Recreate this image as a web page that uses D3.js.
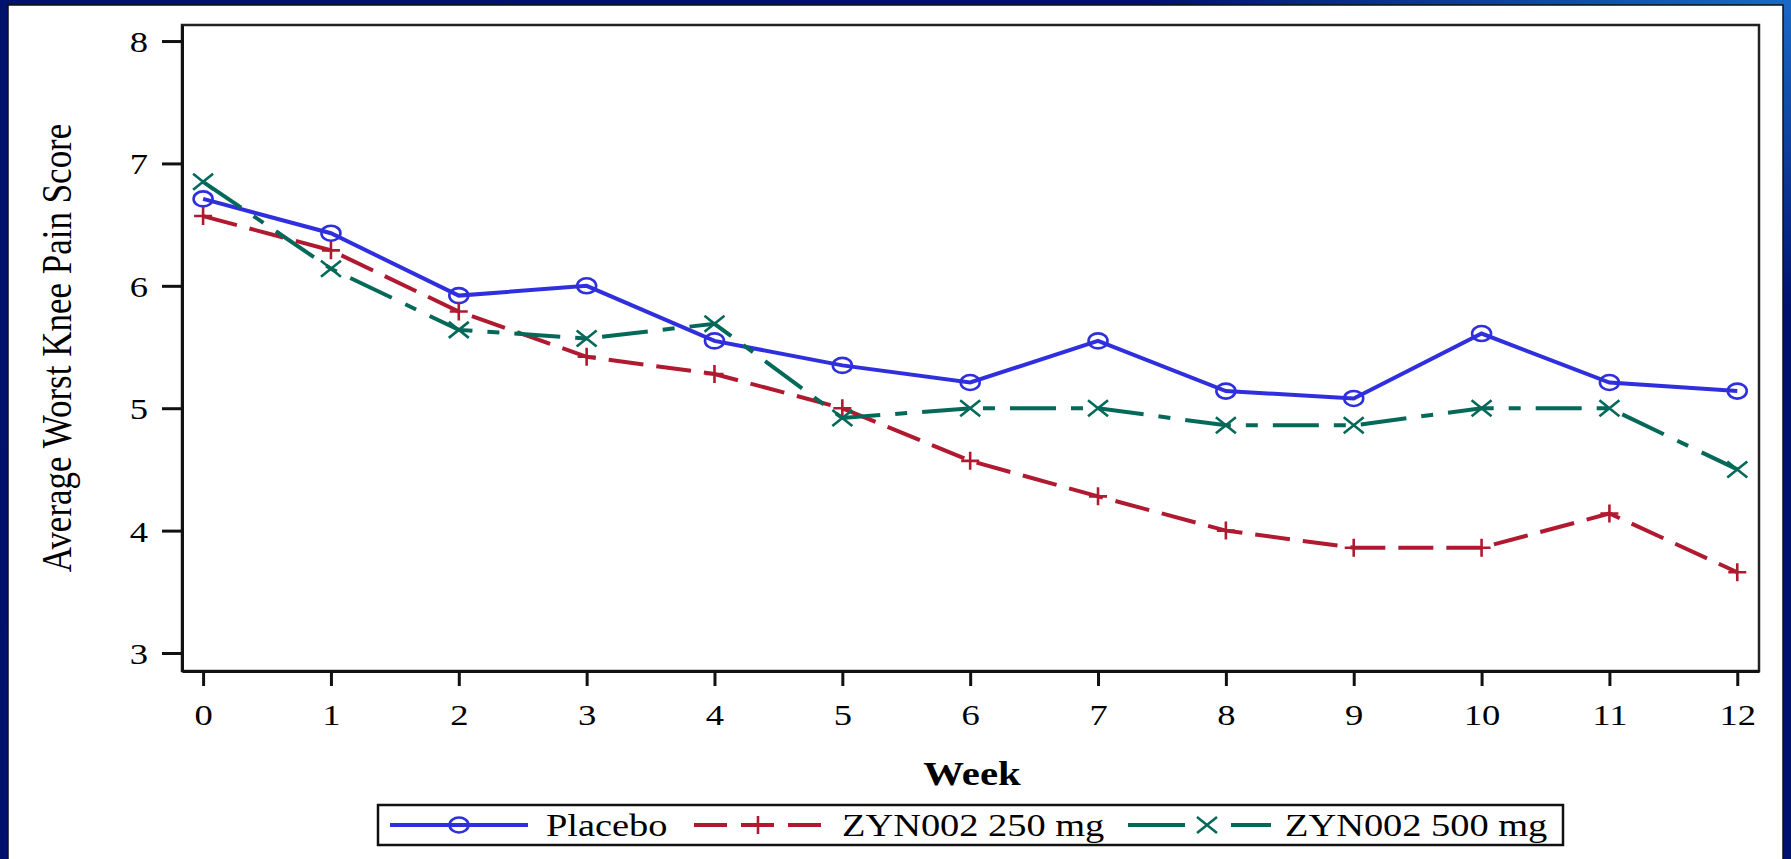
<!DOCTYPE html>
<html>
<head>
<meta charset="utf-8">
<script src="https://cdn.jsdelivr.net/npm/d3@7"></script>
<style>
  html, body { margin: 0; padding: 0; background: #001070; }
  svg { display: block; }
  text { font-family: "Liberation Serif", "Times New Roman", serif; fill: #000; }
</style>
</head>
<body>
<script>
// data
var weeks = [0, 1, 2, 3, 4, 5, 6, 7, 8, 9, 10, 11, 12];
var placebo = [6.71, 6.43, 5.92, 6.00, 5.55, 5.35, 5.21, 5.55, 5.14, 5.08, 5.61, 5.21, 5.14];
var zyn250  = [6.57, 6.29, 5.79, 5.42, 5.28, 5.00, 4.57, 4.28, 4.00, 3.86, 3.86, 4.14, 3.66];
var zyn500  = [6.85, 6.14, 5.64, 5.57, 5.69, 4.92, 5.00, 5.00, 4.86, 4.86, 5.00, 5.00, 4.50];
var yTicks = [3, 4, 5, 6, 7, 8];
var seriesNames = ["Placebo", "ZYN002 250 mg", "ZYN002 500 mg"];

var W = 1791, H = 859;
var plot = {left: 182, right: 1759, top: 25, bottom: 671};
var stretch = 1.22; // source picture is stretched sideways

var series = [
  {name: seriesNames[0], values: placebo, color: "#2f2fdd", dash: null, legendDash: null, marker: "circle"},
  {name: seriesNames[1], values: zyn250, color: "#b01a30", dash: "35,13", legendDash: "33,14", marker: "plus"},
  {name: seriesNames[2], values: zyn500, color: "#05695a", dash: "46,15,12,15", legendDash: "57,46,40", marker: "cross"}
];

var svg = d3.select("body").append("svg")
    .attr("width", W)
    .attr("height", H);

// navy frame with lighter corner
var grad = svg.append("defs").append("linearGradient")
    .attr("id", "frame")
    .attr("x1", 0).attr("y1", 1).attr("x2", 1).attr("y2", 0);
grad.append("stop").attr("offset", "0").attr("stop-color", "#001070");
grad.append("stop").attr("offset", "0.82").attr("stop-color", "#00126e");
grad.append("stop").attr("offset", "1").attr("stop-color", "#1a6ac8");
svg.append("rect").attr("width", W).attr("height", H).attr("fill", "url(#frame)");

// white panel
svg.append("rect")
    .attr("x", 8).attr("y", 5)
    .attr("width", 1775).attr("height", H)
    .attr("fill", "#fff")
    .attr("stroke", "#111")
    .attr("stroke-width", 1.5);

var x = d3.scaleLinear().domain([-0.165, 12.17]).range([plot.left, plot.right]);
var y = d3.scaleLinear().domain([2.853, 8.131]).range([plot.bottom, plot.top]);

// plot frame
svg.append("rect")
    .attr("x", plot.left).attr("y", plot.top)
    .attr("width", plot.right - plot.left)
    .attr("height", plot.bottom - plot.top)
    .attr("fill", "none")
    .attr("stroke", "#222")
    .attr("stroke-width", 2.5);

// y axis
var gy = svg.append("g")
    .attr("transform", "translate(" + plot.left + ",0)")
    .call(d3.axisLeft(y).tickValues(yTicks).tickSize(20).tickSizeOuter(0).tickFormat(d3.format("d")));
gy.select(".domain").attr("stroke", "#111").attr("stroke-width", 3);
gy.selectAll(".tick line").attr("stroke", "#111").attr("stroke-width", 3);
gy.selectAll(".tick text")
    .attr("x", 0).attr("dy", "0.35em")
    .attr("text-anchor", "end")
    .attr("transform", "translate(-34,0) scale(" + stretch + ",1)")
    .style("font-size", "30px")
    .style("font-family", "Liberation Serif");

// x axis
var gx = svg.append("g")
    .attr("transform", "translate(0," + plot.bottom + ")")
    .call(d3.axisBottom(x).tickValues(weeks).tickSize(15).tickSizeOuter(0).tickFormat(d3.format("d")));
gx.select(".domain").attr("stroke", "#111").attr("stroke-width", 3);
gx.selectAll(".tick line").attr("stroke", "#111").attr("stroke-width", 3);
gx.selectAll(".tick text")
    .attr("y", 0).attr("dy", 0)
    .attr("text-anchor", "middle")
    .attr("transform", "translate(0,54) scale(" + stretch + ",1)")
    .style("font-size", "30px")
    .style("font-family", "Liberation Serif");

// axis titles
svg.append("text")
    .attr("transform", "translate(972,785) scale(1.2,1)")
    .attr("text-anchor", "middle")
    .style("font-size", "34px")
    .style("font-weight", "bold")
    .text("Week");

svg.append("text")
    .attr("transform", "translate(71,348) scale(1.2,1) rotate(-90)")
    .attr("text-anchor", "middle")
    .style("font-size", "35px")
    .text("Average Worst Knee Pain Score");

// markers
function drawMarker(g, type, color) {
  if (type === "circle") {
    g.append("ellipse").attr("rx", 9.5).attr("ry", 7.5)
        .attr("fill", "none").attr("stroke", color).attr("stroke-width", 2.6);
  } else if (type === "plus") {
    g.append("path").attr("d", "M-9,0H9M0,-9V9")
        .attr("stroke", color).attr("stroke-width", 2.6);
  } else {
    g.append("path").attr("d", "M-10,-8L10,8M-10,8L10,-8")
        .attr("stroke", color).attr("stroke-width", 2.6);
  }
}

var line = d3.line()
    .x(function(d) { return x(d.week); })
    .y(function(d) { return y(d.value); });

series.forEach(function(s) {
  var pts = weeks.map(function(w, i) { return {week: w, value: s.values[i]}; });
  svg.append("path")
      .datum(pts)
      .attr("d", line)
      .attr("fill", "none")
      .attr("stroke", s.color)
      .attr("stroke-width", 4)
      .attr("stroke-dasharray", s.dash);
  svg.selectAll(null)
      .data(pts)
      .enter().append("g")
      .attr("transform", function(d) { return "translate(" + x(d.week) + "," + y(d.value) + ")"; })
      .each(function() { drawMarker(d3.select(this), s.marker, s.color); });
});

// legend
svg.append("rect")
    .attr("x", 378).attr("y", 805)
    .attr("width", 1563 - 378).attr("height", 40)
    .attr("fill", "#fff")
    .attr("stroke", "#111")
    .attr("stroke-width", 2.5);

var legendItems = [
  {x0: 390, x1: 528, mx: 459, tx: 546},
  {x0: 694, x1: 821, mx: 758, tx: 842},
  {x0: 1128, x1: 1271, mx: 1207, tx: 1285}
];
var ly = 825;
series.forEach(function(s, i) {
  var it = legendItems[i];
  svg.append("line")
      .attr("x1", it.x0).attr("x2", it.x1)
      .attr("y1", ly).attr("y2", ly)
      .attr("stroke", s.color)
      .attr("stroke-width", 4)
      .attr("stroke-dasharray", s.legendDash);
  var mg = svg.append("g").attr("transform", "translate(" + it.mx + "," + ly + ")");
  drawMarker(mg, s.marker, s.color);
  svg.append("text")
      .attr("transform", "translate(" + it.tx + "," + (ly + 11) + ") scale(1.2,1)")
      .style("font-size", "32px")
      .text(s.name);
});
</script>
</body>
</html>
